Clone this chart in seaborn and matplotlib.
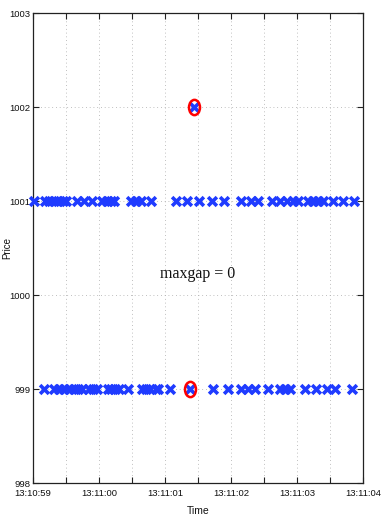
import numpy as np
import pandas as pd
import matplotlib
matplotlib.use("Agg")
import matplotlib.pyplot as plt
import matplotlib.path as mpath
from matplotlib.transforms import Affine2D
import seaborn as sns

# seconds after 13:10:59
ask_times = [0.015, 0.18, 0.24, 0.32, 0.38, 0.45, 0.50, 0.67, 0.77, 0.89, 1.05, 1.12,
             1.18, 1.23, 1.48, 1.56, 1.64, 1.79, 2.17, 2.33, 2.52, 2.71, 2.89, 3.15,
             3.30, 3.41, 3.62, 3.74, 3.85, 3.94, 4.02, 4.17, 4.24, 4.32, 4.39, 4.55,
             4.70, 4.86]
ask_price = 1001
bid_times = [0.17, 0.32, 0.39, 0.47, 0.55, 0.62, 0.68, 0.74, 0.85, 0.91, 0.97, 1.14,
             1.18, 1.24, 1.30, 1.44, 1.65, 1.71, 1.77, 1.86, 1.89, 2.08, 2.38, 2.73,
             2.95, 3.15, 3.26, 3.36, 3.56, 3.74, 3.82, 3.89, 4.12, 4.29, 4.45, 4.58,
             4.83]
bid_price = 999
trade_times = [2.44, 2.38]
trade_prices = [1002, 999]
highlight_times = [2.44, 2.38]
highlight_prices = [1002, 999]

x_ticks = [0, 0.5, 1, 1.5, 2, 2.5, 3, 3.5, 4, 4.5, 5]
x_ticklabels = ["13:10:59", "", "13:11:00", "", "13:11:01", "", "13:11:02", "",
                "13:11:03", "", "13:11:04"]
y_ticks = [998, 999, 1000, 1001, 1002, 1003]
annotation = "maxgap = 0"

sns.set_theme(style="white")
plt.rcParams['font.family'] = ['Liberation Sans Narrow', 'Liberation Sans', 'DejaVu Sans']

df = pd.DataFrame({
    "Time": ask_times + bid_times + [trade_times[0]],
    "Price": [ask_price] * len(ask_times) + [bid_price] * len(bid_times) + [trade_prices[0]],
})

fig = plt.figure(figsize=(3.81, 5.23), dpi=100)
ax = fig.add_axes([33 / 381, 1 - 483 / 523, 330 / 381, 470 / 523])

blue = "#1f3bff"
sns.scatterplot(data=df, x="Time", y="Price", marker="x", color=blue, s=40,
                linewidth=2.6, ax=ax, zorder=3, clip_on=False)

ell = mpath.Path.unit_circle().transformed(Affine2D().scale(0.72, 1.0))
ax.plot(highlight_times, highlight_prices, linestyle="none", marker=ell,
        markersize=11, markerfacecolor="none", markeredgecolor="red",
        markeredgewidth=1.8, zorder=4)

ax.set_xlim(0, 5)
ax.set_ylim(998, 1003)
ax.set_xticks(x_ticks)
ax.set_xticklabels(x_ticklabels)
ax.set_yticks(y_ticks)
ax.set_yticklabels([str(v) for v in y_ticks])

ax.grid(True, linestyle=(0, (1, 3.5)), color="#aaaaaa", linewidth=0.6)
ax.set_axisbelow(True)
for sp in ax.spines.values():
    sp.set_color("#222222")
    sp.set_linewidth(0.9)
ax.tick_params(axis="both", direction="in", length=4, width=0.8, color="#222222",
               labelsize=6.8, labelcolor="#111111", top=True, right=True,
               bottom=True, left=True, pad=2)
ax.tick_params(axis="x", pad=4)

ax.set_xlabel("Time", fontsize=7.5, color="#111111", labelpad=6)
ax.set_ylabel("Price", fontsize=7, color="#111111")
ax.yaxis.set_label_coords(-0.064, 0.5)

ax.text(2.5, 1000.22, annotation, ha="center", va="center", fontsize=11.5,
        family=["Liberation Serif", "DejaVu Serif"], color="#111111")

fig.savefig("out.png", dpi=100)
